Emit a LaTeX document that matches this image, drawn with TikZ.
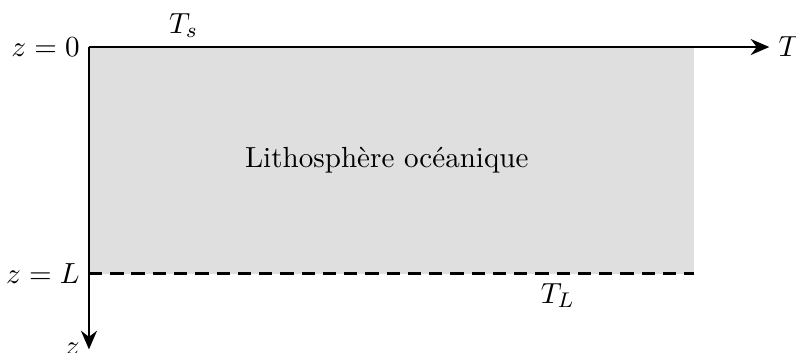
\documentclass[tikz,border=0pt]{standalone}
\usetikzlibrary{arrows.meta}
\begin{document}
\begin{tikzpicture}[
  axis/.style={line width=1pt,-{Stealth[length=7pt,width=6pt]}},
  lbl/.style={inner sep=3.33pt,font=\fontsize{10.95}{13.6}\selectfont}
]
\useasboundingbox (-1.177,-4.047) rectangle (9.353,0.622);
\coordinate (O) at (0,0);
\coordinate (TE) at (9,0);
\coordinate (ZE) at (0,-4);
\coordinate (L) at (0,-3);
\coordinate (LE) at (8,-3);
\fill[gray!25] (0,0) rectangle (8,-3);
\node[lbl] (lith) at (3.94,-1.5) {Lithosphère océanique};
\draw[axis] (O) -- (TE);
\draw[axis] (O) -- (ZE);
\draw[line width=1pt,dash pattern=on 5pt off 3pt] (L) -- (LE);
\node[lbl,right] (T) at (TE) {$T$};
\node[lbl,left] (z) at (ZE) {$z$};
\node[lbl,left] (z0) at (O) {$z=0$};
\node[lbl,left] (zL) at (L) {$z=L$};
\node[lbl,above] (Ts) at (1.25,0) {$T_s$};
\node[lbl,below] (TL) at (6.2,-3) {$T_L$};
\end{tikzpicture}
\end{document}
